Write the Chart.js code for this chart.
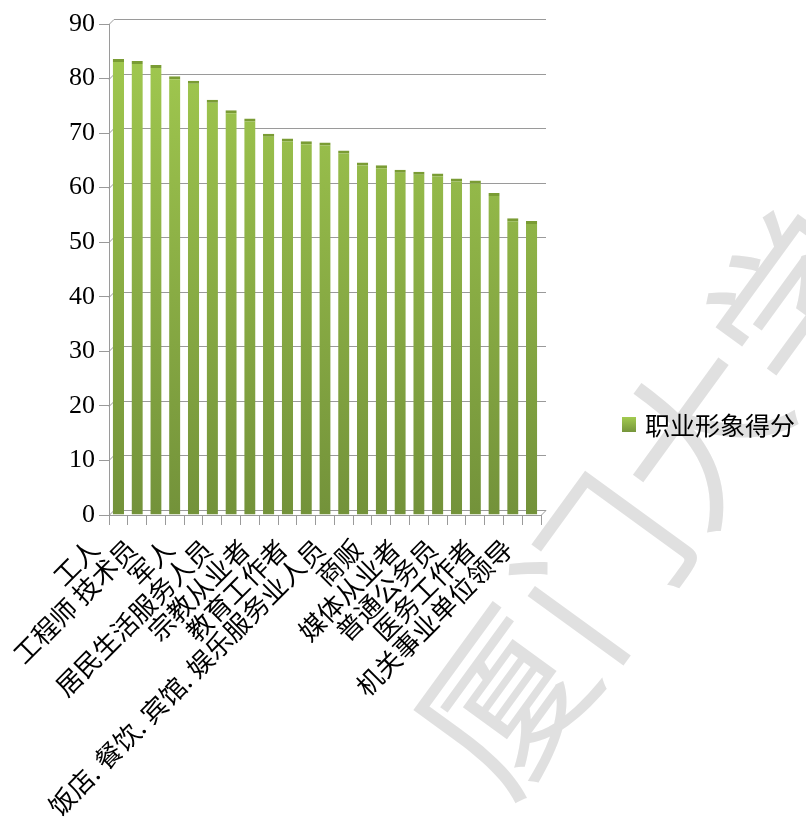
<!DOCTYPE html>
<html>
<head>
<meta charset="utf-8">
<script src="https://cdn.jsdelivr.net/npm/chart.js@4.4.0/dist/chart.umd.min.js"></script>
<style>
  html, body { margin: 0; padding: 0; background: #fff; }
</style>
</head>
<body>
<canvas id="myChart" width="806" height="823"></canvas>
<script>
// data (only every other category name can be read in the source picture)
const categories = ["工人", "", "工程师 技术员", "", "军人", "", "居民生活服务人员", "", "宗教从业者", "",
  "教育工作者", "", "饭店. 餐饮. 宾馆. 娱乐服务业人员", "", "商贩", "", "媒体从业者", "",
  "普通公务员", "", "医务工作者", "", "机关事业单位领导"];
const scores = [83.6, 83.2, 82.5, 80.4, 79.6, 76.1, 74.2, 72.7, 69.9, 69.0, 68.5, 68.3,
  66.8, 64.6, 64.1, 63.3, 62.9, 62.6, 61.7, 61.3, 59.0, 54.4, 53.9];
const seriesName = "职业形象得分";
const yTicks = [0, 10, 20, 30, 40, 50, 60, 70, 80, 90];

const GRID = "#9a9a9a";
const DEPTH = 5;

function barGradient(chart, top, bottom) {
  const g = chart.ctx.createLinearGradient(0, top, 0, bottom);
  g.addColorStop(0, "#a3cb50");
  g.addColorStop(1, "#73923a");
  return g;
}

// faint watermark behind the chart
const watermark = {
  id: "watermark",
  beforeDraw(chart) {
    const ctx = chart.ctx;
    ctx.save();
    ctx.translate(650, 500);
    ctx.rotate(-54 * Math.PI / 180);
    ctx.font = 'normal 165px "Noto Sans CJK SC"';
    ctx.fillStyle = "#e0e0e0";
    ctx.textAlign = "center";
    ctx.textBaseline = "middle";
    ctx.fillText("厦门大学", 0, 0);
    ctx.restore();
  }
};

// back wall gridlines + floor, to fake the 3d look
const wall = {
  id: "wall",
  beforeDatasetsDraw(chart) {
    const { ctx, chartArea: a, scales: { y } } = chart;
    ctx.save();
    ctx.strokeStyle = GRID;
    ctx.lineWidth = 1;
    yTicks.forEach((v) => {
      const py = Math.round(y.getPixelForValue(v)) + 0.5;
      ctx.beginPath();
      ctx.moveTo(a.left, py);
      ctx.lineTo(a.left + DEPTH, py - DEPTH);
      ctx.lineTo(a.right + DEPTH, py - DEPTH);
      ctx.stroke();
    });
    const pb = Math.round(y.getPixelForValue(0)) + 0.5;
    ctx.beginPath();
    ctx.moveTo(a.right, pb);
    ctx.lineTo(a.right + DEPTH, pb - DEPTH);
    ctx.stroke();
    ctx.restore();
  }
};

// legend on the right, centred on the whole canvas height
const sideLegend = {
  id: "sideLegend",
  afterDraw(chart) {
    const { ctx, chartArea: a } = chart;
    const x = a.right + 81, cy = 425;
    ctx.save();
    ctx.fillStyle = barGradient(chart, cy - 8, cy + 8);
    ctx.fillRect(x, cy - 8, 14, 15);
    ctx.font = '25px "Noto Sans CJK SC"';
    ctx.fillStyle = "#000";
    ctx.textBaseline = "middle";
    ctx.fillText(seriesName, x + 23, cy);
    ctx.restore();
  }
};

const data = {
  labels: categories,
  datasets: [
    {
      label: seriesName,
      data: scores,
      backgroundColor: (c) => {
        const a = c.chart.chartArea;
        if (!a) return "#8db046";
        return barGradient(c.chart, a.top, a.bottom);
      },
      borderColor: "#7a9c34",
      borderWidth: { top: 3, left: 0, right: 0, bottom: 0 },
      barPercentage: 0.6,
      categoryPercentage: 1,
    },
  ],
};

const config = {
  type: "bar",
  data,
  options: {
    responsive: false,
    devicePixelRatio: 1,
    animation: false,
    layout: { padding: { top: 24, right: 265, left: 0, bottom: 0 } },
    plugins: {
      legend: { display: false },
      tooltip: { enabled: false },
    },
    scales: {
      x: {
        afterFit: (s) => { s.height = 308; },
        grid: { drawOnChartArea: false, tickLength: 10, color: GRID, offset: true },
        border: { color: GRID },
        ticks: {
          autoSkip: false,
          minRotation: 45,
          maxRotation: 45,
          labelOffset: -24,
          padding: 8,
          color: "#000",
          font: { family: '"Noto Sans CJK SC"', size: 26 },
        },
      },
      y: {
        min: 0,
        max: 90,
        afterFit: (s) => { s.width = 109; },
        afterBuildTicks: (s) => { s.ticks = yTicks.map((v) => ({ value: v })); },
        grid: { drawOnChartArea: false, tickLength: 10, color: GRID },
        border: { color: GRID },
        ticks: {
          padding: 4,
          color: "#000",
          font: { family: '"Liberation Serif"', size: 26 },
        },
      },
    },
  },
  plugins: [watermark, wall, sideLegend],
};

const myChart = new Chart(document.getElementById("myChart"), config);
</script>
</body>
</html>
